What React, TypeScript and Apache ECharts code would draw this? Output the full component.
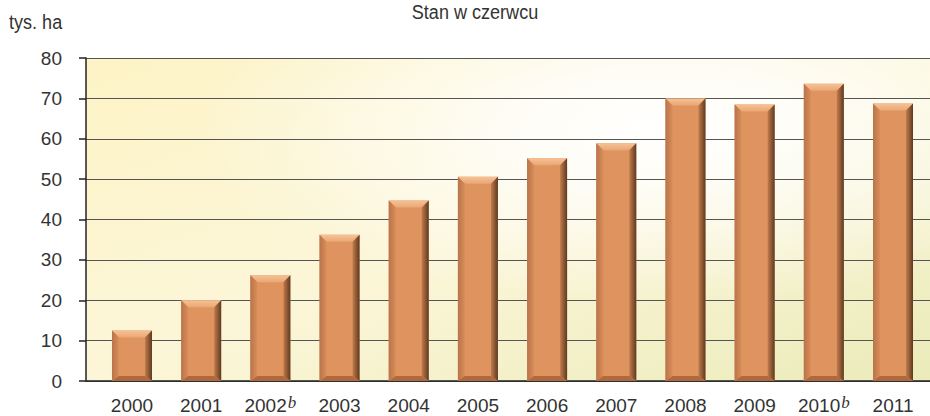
import React, { useEffect, useRef } from "react";
import * as echarts from "echarts";

const categories = ["2000", "2001", "2002", "2003", "2004", "2005", "2006", "2007", "2008", "2009", "2010", "2011"];
const footnotes = ["", "", "b", "", "", "", "", "", "", "", "b", ""];
const values = [12.5, 20, 26.2, 36.2, 44.7, 50.6, 55.2, 58.9, 70, 68.5, 73.6, 68.7];
const yTicks = { min: 0, max: 80, interval: 10 };
const titleText = "Stan w czerwcu";
const unitText = "tys. ha";

const FONT = "'Liberation Sans', Arial, sans-serif";
const FS = 19;

export default function App() {
  const ref = useRef<HTMLDivElement>(null);
  useEffect(() => {
    document.body.style.margin = "0";
    const chart = echarts.init(ref.current!, null, { renderer: "svg" });
    const gridTop = 58;
    const gridH = 323;
    const option: any = {
      animation: false,
      backgroundColor: "#ffffff",
      textStyle: { fontFamily: FONT },
      graphic: [
        {
          type: "rect",
          z: -10,
          shape: { x: 86, y: gridTop, width: 844, height: gridH },
          style: {
            fill: new echarts.graphic.LinearGradient(0, 0, 1, 1, [
              { offset: 0, color: "#fdf3c6" },
              { offset: 0.5, color: "#fcf6d8" },
              { offset: 1, color: "#ebebba" },
            ]),
          },
        },
        {
          type: "text",
          x: 475,
          y: 11,
          scaleX: 0.86,
          style: { text: titleText, font: `21px ${FONT}`, fill: "#333", align: "center", verticalAlign: "middle" },
        },
        {
          type: "text",
          x: 9,
          y: 21,
          scaleX: 0.86,
          style: { text: unitText, font: `21px ${FONT}`, fill: "#333", align: "left", verticalAlign: "middle" },
        },
      ],
      grid: [
        {
          left: 86,
          right: 0,
          top: gridTop,
          height: gridH,
          show: true,
          borderWidth: 0,
          backgroundColor: new echarts.graphic.RadialGradient(0.68, 0.22, 0.55, [
            { offset: 0, color: "rgba(255,255,255,1)" },
            { offset: 0.35, color: "rgba(255,255,255,0.75)" },
            { offset: 1, color: "rgba(255,255,255,0)" },
          ]),
        },
        { left: 97.4, right: 2.4, top: gridTop, height: gridH },
      ],
      xAxis: [
        {
          gridIndex: 0,
          type: "value",
          min: 0,
          max: 1,
          axisLine: { show: true, lineStyle: { color: "#222", width: 1.5 } },
          axisTick: { show: false },
          axisLabel: { show: false },
          splitLine: { show: false },
        },
        {
          gridIndex: 1,
          type: "category",
          data: categories,
          axisLine: { show: false },
          axisTick: { show: false },
          axisLabel: {
            interval: 0,
            margin: 13,
            color: "#333",
            formatter: (v: string, i: number) => (footnotes[i] ? `{n|${v}}{sup|${footnotes[i]}}` : `{n|${v}}`),
            rich: {
              n: {
                fontSize: FS,
                lineHeight: 22,
                fontFamily: FONT,
                color: "#333",
              },
              sup: {
                fontSize: 17,
                lineHeight: 12,
                fontStyle: "italic",
                fontFamily: "'Liberation Serif', 'DejaVu Serif', serif",
                color: "#333",
                verticalAlign: "top",
                padding: [0, 0, 0, 1],
              },
            },
          },
          splitLine: { show: false },
        },
      ],
      yAxis: [
        {
          gridIndex: 0,
          type: "value",
          min: yTicks.min,
          max: yTicks.max,
          interval: yTicks.interval,
          axisLine: { show: true, lineStyle: { color: "#222", width: 1.5 } },
          axisTick: { show: true, length: 7, lineStyle: { color: "#222", width: 1.5 } },
          axisLabel: { margin: 24, fontSize: FS, color: "#333", fontFamily: FONT },
          splitLine: { show: true, lineStyle: { color: "#555", width: 1.2 } },
        },
        {
          gridIndex: 1,
          type: "value",
          min: yTicks.min,
          max: yTicks.max,
          interval: yTicks.interval,
          show: false,
        },
      ],
      series: [
        {
          type: "custom",
          xAxisIndex: 1,
          yAxisIndex: 1,
          z: 5,
          data: values.map((v, i) => [i, v]),
          renderItem: (params: any, api: any) => {
            const top = api.coord([api.value(0), api.value(1)]);
            const base = api.coord([api.value(0), 0]);
            const w = 40;
            const l = top[0] - w / 2;
            const r = top[0] + w / 2;
            const t = top[1];
            const b = base[1];
            const bv = 7;
            const bt = 7;
            const bb = 5;
            return {
              type: "group",
              children: [
                { type: "rect", shape: { x: l, y: t, width: w, height: b - t }, style: { fill: "#df945f" } },
                {
                  type: "polygon",
                  shape: { points: [[l, t], [r, t], [r - bv, t + bt], [l + bv, t + bt]] },
                  style: {
                    fill: new echarts.graphic.LinearGradient(0, 0, 0, 1, [
                      { offset: 0, color: "#f6c296" },
                      { offset: 1, color: "#eaa774" },
                    ]),
                  },
                },
                {
                  type: "polygon",
                  shape: { points: [[l, t], [l + bv, t + bt], [l + bv, b - bb], [l, b]] },
                  style: {
                    fill: new echarts.graphic.LinearGradient(0, 0, 1, 0, [
                      { offset: 0, color: "#b8744a" },
                      { offset: 1, color: "#d98d59" },
                    ]),
                  },
                },
                {
                  type: "polygon",
                  shape: { points: [[r, t], [r, b], [r - bv, b - bb], [r - bv, t + bt]] },
                  style: {
                    fill: new echarts.graphic.LinearGradient(0, 0, 1, 0, [
                      { offset: 0, color: "#c27c4c" },
                      { offset: 1, color: "#5e3a22" },
                    ]),
                  },
                },
                {
                  type: "polygon",
                  shape: { points: [[l, b], [l + bv, b - bb], [r - bv, b - bb], [r, b]] },
                  style: { fill: "#b0693c" },
                },
              ],
            };
          },
        },
      ],
    };
    chart.setOption(option);
    return () => chart.dispose();
  }, []);
  return <div ref={ref} style={{ width: 930, height: 416 }} />;
}
